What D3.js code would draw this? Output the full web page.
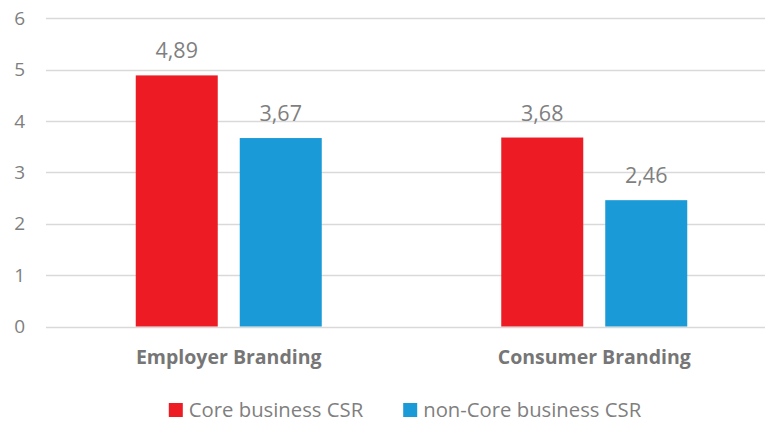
<!DOCTYPE html>
<html>
<head>
<meta charset="utf-8">
<script src="https://cdn.jsdelivr.net/npm/d3@7"></script>
<style>
  html, body { margin: 0; padding: 0; background: #fff; }
  svg { display: block; font-family: "Open Sans", Lato, sans-serif; }
</style>
</head>
<body>
<svg id="chart" width="765" height="425"></svg>
<script>
// Chart data
const categories = ["Employer Branding", "Consumer Branding"];
const seriesNames = ["Core business CSR", "non-Core business CSR"];
const coreValues = [4.89, 3.68];
const nonCoreValues = [3.67, 2.46];
const yTicks = [0, 1, 2, 3, 4, 5, 6];

const colors = ["#ED1C24", "#1A9AD7"];
const seriesValues = [coreValues, nonCoreValues];

const svg = d3.select("#chart");
const W = 765, H = 425;
const FONT = "'Open Sans', Lato, sans-serif";

// Plot area
const plotLeft = 46, plotRight = 777, plotTop = 18.4, plotBottom = 326.5;

const y = d3.scaleLinear().domain([0, 6]).range([plotBottom, plotTop]);
const x0 = d3.scaleBand().domain(categories).range([plotLeft, plotRight]).padding(0);
// series positions within each category band
const x1 = d3.scaleBand().domain(d3.range(seriesNames.length))
  .range([89.75, 275.75]).paddingInner(0.2115).paddingOuter(0);

const fmt = v => d3.format(".2f")(v).replace(".", ",");

// Gridlines
svg.append("g")
  .selectAll("line")
  .data(yTicks)
  .join("line")
  .attr("x1", plotLeft).attr("x2", W)
  .attr("y1", d => Math.round(y(d)) + 0.5)
  .attr("y2", d => Math.round(y(d)) + 0.5)
  .attr("stroke", "#d9d9d9")
  .attr("stroke-width", 1.5);

// Y axis labels
const yAxis = d3.axisLeft(y).tickValues(yTicks).tickFormat(d3.format("d"))
  .tickSize(0).tickPadding(0);
const ga = svg.append("g").attr("transform", `translate(25,0)`).call(yAxis);
ga.select(".domain").remove();
ga.selectAll("text")
  .attr("fill", "#7f7f7f")
  .style("font-size", "19px")
  .style("font-family", FONT);

// Bars
const groups = svg.append("g")
  .selectAll("g")
  .data(categories)
  .join("g")
  .attr("transform", d => `translate(${x0(d)},0)`);

groups.selectAll("rect")
  .data((d, i) => seriesValues.map((vals, s) => ({ s, v: vals[i] })))
  .join("rect")
  .attr("x", d => x1(d.s))
  .attr("width", x1.bandwidth())
  .attr("y", d => y(d.v))
  .attr("height", d => y(0) - y(d.v))
  .attr("fill", d => colors[d.s]);

// Value labels
groups.selectAll("text.val")
  .data((d, i) => seriesValues.map((vals, s) => ({ s, v: vals[i] })))
  .join("text")
  .attr("class", "val")
  .attr("x", d => x1(d.s) + x1.bandwidth() / 2)
  .attr("y", d => y(d.v) - 17)
  .attr("text-anchor", "middle")
  .attr("fill", "#7f7f7f")
  .style("font-size", "21.5px")
  .text(d => fmt(d.v));

// Category labels
svg.append("g")
  .selectAll("text")
  .data(categories)
  .join("text")
  .attr("x", d => x0(d) + (x1(0) + x1(1) + x1.bandwidth()) / 2)
  .attr("y", 364)
  .attr("text-anchor", "middle")
  .attr("fill", "#767676")
  .style("font-size", "19.5px")
  .style("font-weight", "bold")
  .text(d => d);

// Legend
const legend = svg.append("g");
const items = legend.selectAll("g")
  .data(seriesNames)
  .join("g");
items.append("rect")
  .attr("width", 14).attr("height", 14)
  .attr("y", 403)
  .attr("fill", (d, i) => colors[i]);
items.append("text")
  .attr("x", 20)
  .attr("y", 417)
  .attr("fill", "#7f7f7f")
  .style("font-size", "20.3px")
  .text(d => d);

const widths = [];
items.each(function () {
  widths.push(20 + d3.select(this).select("text").node().getComputedTextLength());
});
const gap = 40;
const total = d3.sum(widths) + gap * (widths.length - 1);
let cx = 405 - total / 2;
items.attr("transform", (d, i) => {
  const t = `translate(${cx},0)`;
  cx += widths[i] + gap;
  return t;
});
</script>
</body>
</html>
